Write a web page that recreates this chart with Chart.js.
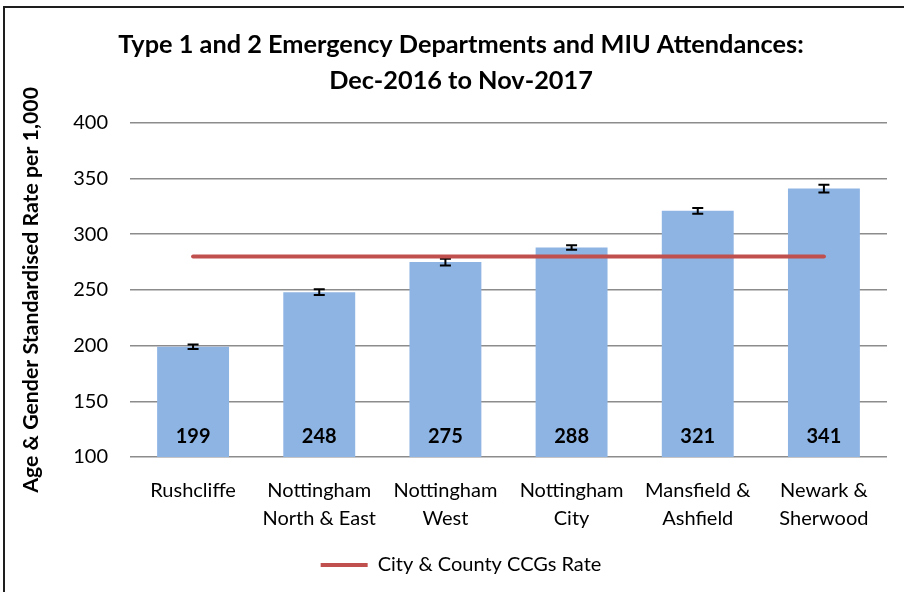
<!DOCTYPE html>
<html>
<head>
<meta charset="utf-8">
<script src="https://cdn.jsdelivr.net/npm/chart.js@4"></script>
<style>
  html, body { margin: 0; padding: 0; background: #fff; overflow: hidden; }
  #wrap { position: relative; width: 904px; height: 592px; }
  #frame { position: absolute; left: 3px; top: 6px; width: 1000px; height: 1000px;
           border-left: 2px solid #1e1e1e; border-top: 2px solid #1e1e1e; pointer-events: none; }
</style>
</head>
<body>
<div id="wrap">
  <canvas id="chart" width="904" height="592"></canvas>
  <div id="frame"></div>
</div>
<script>
// data
const areas = [
  ["Rushcliffe"],
  ["Nottingham", "North & East"],
  ["Nottingham", "West"],
  ["Nottingham", "City"],
  ["Mansfield &", "Ashfield"],
  ["Newark &", "Sherwood"]
];
const rates = [199, 248, 275, 288, 321, 341];
const errLow = [2, 2.5, 3, 2, 2.5, 3.5];
const errHigh = [2, 2.5, 3, 2, 2.5, 3.5];
const ccgRate = [280, 280, 280, 280, 280, 280];
const yTicks = [100, 150, 200, 250, 300, 350, 400];

const FONT = "Lato";

// error bars + value labels for the bar dataset
const errorBars = {
  id: "errorBars",
  afterDatasetDraw(chart, args) {
    if (args.meta.type !== "bar") return;
    const ctx = chart.ctx;
    const y = chart.scales.y;
    ctx.save();
    ctx.strokeStyle = "#000";
    ctx.lineWidth = 2;
    args.meta.data.forEach((bar, i) => {
      const top = y.getPixelForValue(rates[i] + errHigh[i]);
      const bot = y.getPixelForValue(rates[i] - errLow[i]);
      ctx.beginPath();
      ctx.moveTo(bar.x, top); ctx.lineTo(bar.x, bot);
      ctx.moveTo(bar.x - 5.5, top); ctx.lineTo(bar.x + 5.5, top);
      ctx.moveTo(bar.x - 5.5, bot); ctx.lineTo(bar.x + 5.5, bot);
      ctx.stroke();
    });
    ctx.fillStyle = "#000";
    ctx.font = "bold 20px " + FONT;
    ctx.textAlign = "center";
    ctx.textBaseline = "middle";
    args.meta.data.forEach((bar, i) => {
      ctx.fillText(String(rates[i]), bar.x, y.bottom - 20);
    });
    ctx.restore();
  }
};

new Chart(document.getElementById("chart"), {
  data: {
    labels: areas,
    datasets: [
      {
        type: "line",
        label: "City & County CCGs Rate",
        data: ccgRate,
        borderColor: "#C0504D",
        backgroundColor: "#C0504D",
        borderWidth: 4,
        pointRadius: 0,
        borderCapStyle: "round",
        order: 0
      },
      {
        type: "bar",
        label: "Rate",
        data: rates,
        backgroundColor: "#8EB4E3",
        borderWidth: 0,
        barPercentage: 0.57,
        categoryPercentage: 1,
        order: 1
      }
    ]
  },
  plugins: [errorBars],
  options: {
    responsive: false,
    animation: false,
    layout: { padding: { left: 18, right: 0, top: 0, bottom: 7 } },
    plugins: {
      title: {
        display: true,
        text: ["Type 1 and 2 Emergency Departments and MIU Attendances:", "Dec-2016 to Nov-2017"],
        color: "#000",
        font: { family: FONT, size: 25.3, weight: "bold", lineHeight: 1.42 },
        padding: { top: 27, bottom: 24 }
      },
      legend: {
        position: "bottom",
        labels: {
          filter: item => item.datasetIndex === 0,
          usePointStyle: true,
          pointStyle: "line",
          pointStyleWidth: 47,
          color: "#000",
          font: { family: FONT, size: 20 },
          padding: 10
        }
      },
      tooltip: { enabled: false }
    },
    scales: {
      x: {
        grid: { display: false, drawTicks: false },
        border: { display: false },
        ticks: { color: "#000", font: { family: FONT, size: 20, lineHeight: 1.4 }, padding: 20, maxRotation: 0, autoSkip: false },
        afterFit: s => { s.height = 88; }
      },
      y: {
        min: 100, max: 400,
        afterBuildTicks: s => { s.ticks = yTicks.map(v => ({ value: v })); },
        grid: { color: "#8c8c8c", lineWidth: 1.5, drawTicks: false },
        border: { display: false },
        ticks: { color: "#000", font: { family: FONT, size: 20 }, padding: 22 },
        title: {
          display: true,
          text: "Age & Gender Standardised Rate per 1,000",
          color: "#000",
          font: { family: FONT, size: 21.3, weight: "bold" },
          padding: { top: 0, bottom: 0 }
        },
        afterFit: s => { s.width = 112; }
      },
      y2: {
        position: "right",
        display: true,
        grid: { display: false, drawTicks: false },
        border: { display: false },
        ticks: { display: false },
        afterFit: s => { s.width = 17; }
      }
    }
  }
});
</script>
</body>
</html>
